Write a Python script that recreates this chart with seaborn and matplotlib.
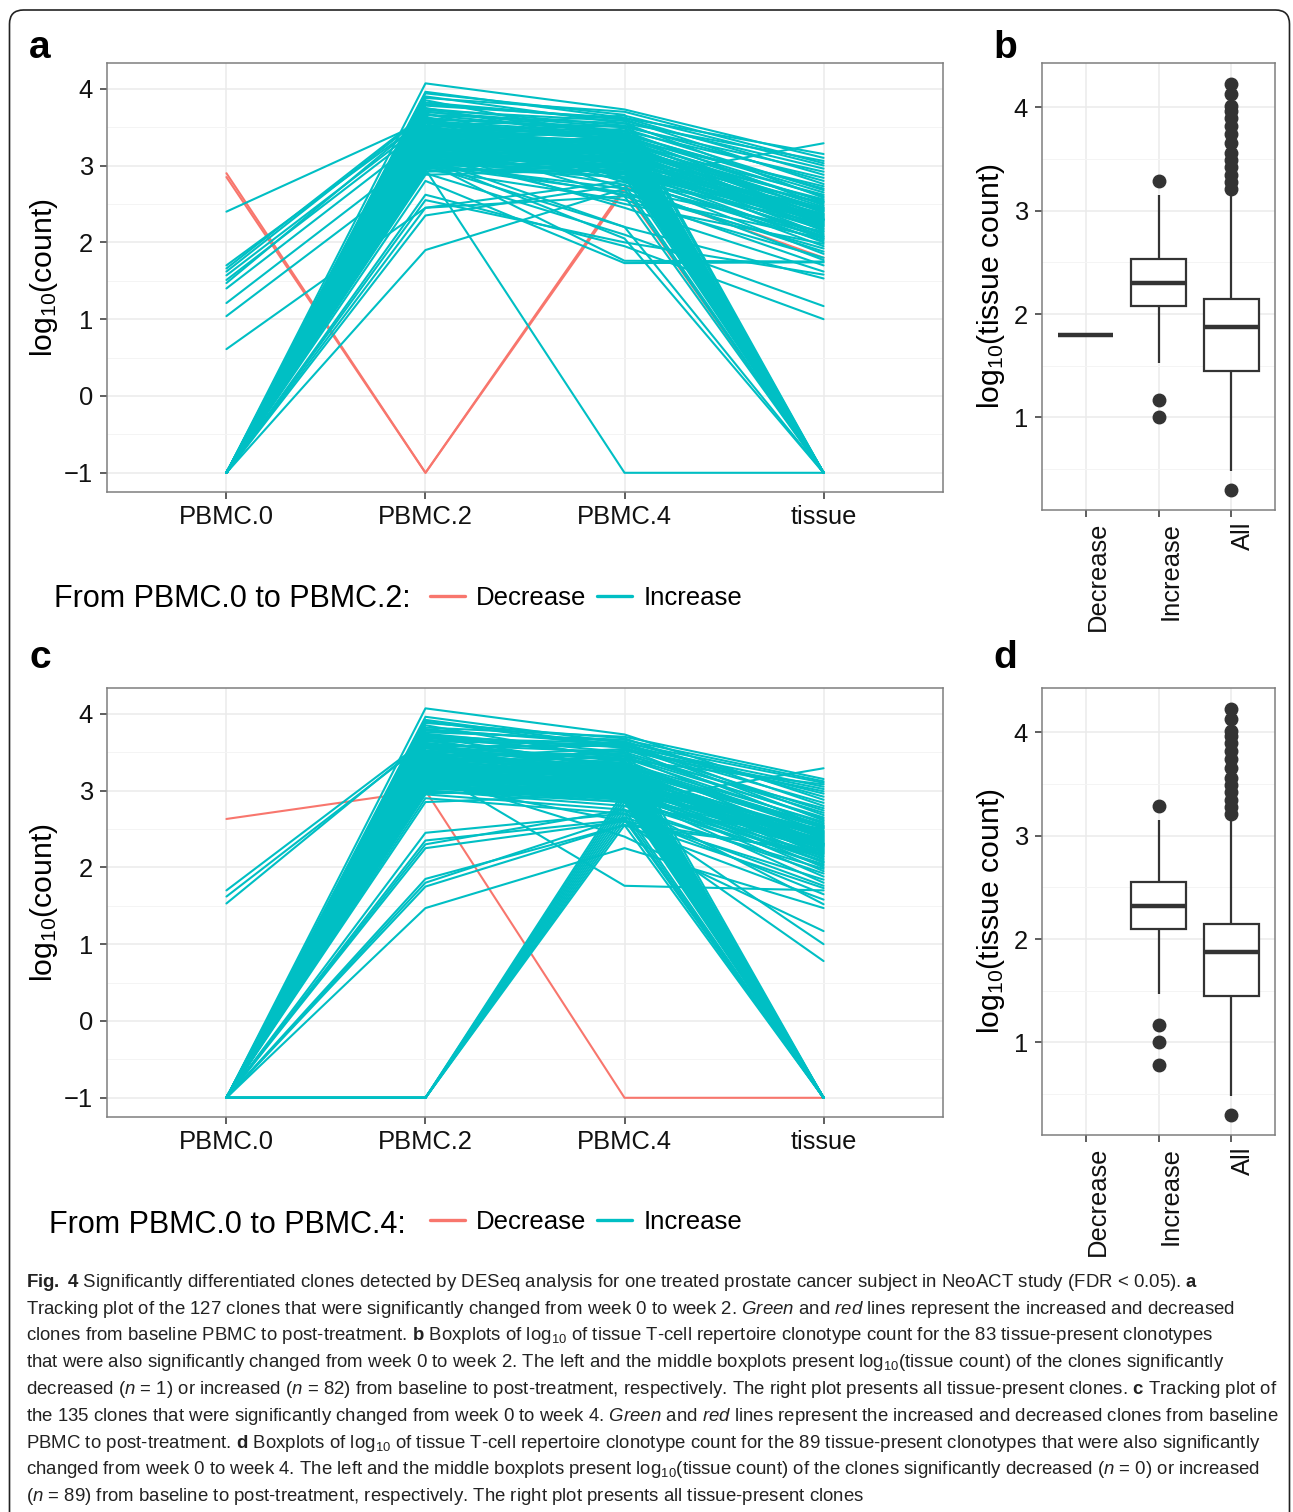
import numpy as np
import pandas as pd
import matplotlib
matplotlib.use("Agg")
import matplotlib.pyplot as plt
import matplotlib.patches as mpatches
import matplotlib.transforms as mtransforms
from matplotlib import font_manager as fm
import seaborn as sns

# ---------------------------------------------------------------- data
time_points = ["PBMC.0", "PBMC.2", "PBMC.4", "tissue"]
box_groups = ["Decrease", "Increase", "All"]

# Panel a: 127 clones changed from week 0 to week 2 (log10 count, -1 = absent)
a_decrease_clones = [125, 126]
a_pbmc0 = [-1, -1, -1, -1, 1.21, -1, -1, -1, -1, -1,
           -1, 1.57, -1, -1, -1, -1, 0.61, -1, -1, -1,
           -1, -1, 1.66, -1, -1, -1, -1, -1, -1, -1,
           1.04, -1, -1, -1, -1, -1, -1, -1, -1, 1.47,
           -1, -1, -1, -1, -1, -1, -1, -1, -1, -1,
           -1, 2.40, -1, -1, -1, -1, -1, -1, -1, -1,
           -1, -1, -1, -1, -1, -1, 1.62, -1, -1, -1,
           -1, -1, -1, -1, -1, -1, -1, -1, -1, -1,
           -1, -1, 1.70, -1, -1, 1.51, -1, -1, -1, -1,
           -1, 1.40, -1, -1, -1, -1, -1, -1, -1, -1,
           -1, -1, -1, -1, -1, -1, -1, -1, -1, -1,
           -1, -1, -1, -1, -1, -1, -1, -1, -1, -1,
           -1, -1, -1, -1, -1, 2.90, 2.85]
a_pbmc2 = [2.62, 2.90, 3.10, 2.55, 3.20, 3.35, 2.80, 3.05, 3.15, 2.95,
           3.45, 3.55, 3.00, 3.25, 3.12, 3.30, 2.45, 3.40, 3.08, 2.98,
           3.22, 3.60, 3.68, 3.18, 3.02, 3.28, 2.88, 3.50, 3.14, 3.33,
           3.00, 3.75, 3.06, 3.20, 3.38, 2.92, 3.26, 3.10, 3.44, 3.62,
           3.16, 3.04, 3.30, 3.85, 3.12, 3.24, 2.96, 3.36, 3.18, 3.52,
           3.08, 3.58, 3.28, 3.20, 3.42, 3.02, 3.34, 3.70, 3.14, 3.26,
           3.48, 3.10, 3.32, 3.90, 3.22, 3.40, 3.66, 3.30, 3.56, 3.18,
           3.80, 3.46, 3.36, 3.96, 3.60, 3.72, 3.50, 3.88, 3.66, 4.07,
           3.78, 3.64, 3.60, 3.20, 3.35, 3.50, 3.05, 3.45, 3.15, 2.95,
           3.28, 3.40, 3.10, 3.55, 3.25, 3.00, 3.38, 3.70, 3.12, 3.30,
           2.45, 1.90, 3.48, 3.22, 3.62, 3.06, 3.34, 3.18, 3.82, 3.42,
           2.35, 3.26, 3.58, 3.08, 3.32, 3.94, 3.16, 3.46, 3.24, 3.74,
           3.02, 3.36, 3.52, 3.14, 3.28, -1, -1]
a_pbmc4 = [1.95, 2.10, 2.20, 2.00, 2.45, 2.60, 1.73, 1.76, 2.75, 2.55,
           2.85, 2.70, 2.65, 2.90, 2.50, 2.95, 2.80, 3.05, 2.62, 2.85,
           3.00, 2.78, 3.10, 2.92, 2.70, 3.15, 2.95, 3.20, 2.88, 3.02,
           2.98, 3.30, 3.08, 2.82, 3.12, 3.00, 2.90, 3.18, 3.25, 3.05,
           2.95, 3.10, 3.22, 3.35, 3.00, 3.28, 2.92, 3.15, 3.05, 3.40,
           3.12, 3.32, 3.08, 3.25, 3.18, 3.02, 3.30, 3.45, 3.20, 3.10,
           3.35, 3.28, 3.22, 3.55, 3.38, 3.30, 3.42, 3.48, 3.40, 3.35,
           3.60, 3.52, 3.45, 3.62, 3.50, 3.58, 3.65, 3.70, 3.55, 3.73,
           3.62, 2.82, 3.10, 2.95, 3.05, 3.25, 2.85, 3.30, 3.00, -1,
           3.15, 3.20, 2.90, 3.35, 3.10, 2.20, 3.28, 3.50, 3.05, 3.18,
           2.60, 2.70, 3.40, 3.08, 3.45, 2.98, 3.22, 3.12, 3.60, 3.32,
           2.75, 3.02, 3.42, 2.05, 3.26, 3.66, 3.00, 3.36, 3.14, 3.52,
           2.92, 3.24, 3.38, 3.06, 3.20, 2.72, 2.68]
a_tissue = [1.00, 1.17, 1.53, 1.58, 1.62, 1.70, 1.74, 1.75, 1.77, 1.80,
            1.85, 1.88, 1.92, 1.95, 1.98, 2.00, 2.02, 2.04, 2.05, 2.06,
            2.08, 2.08, 2.10, 2.12, 2.14, 2.15, 2.17, 2.18, 2.20, 2.21,
            2.22, 2.23, 2.24, 2.25, 2.26, 2.27, 2.28, 2.29, 2.29, 2.30,
            2.30, 2.30, 2.31, 2.32, 2.33, 2.34, 2.35, 2.36, 2.37, 2.38,
            2.40, 2.41, 2.42, 2.43, 2.44, 2.45, 2.46, 2.48, 2.50, 2.52,
            2.53, 2.54, 2.56, 2.58, 2.60, 2.62, 2.65, 2.68, 2.70, 2.73,
            2.76, 2.80, 2.84, 2.88, 2.92, 2.96, 3.00, 3.03, 3.06, 3.10,
            3.15, 3.29, -1, -1, -1, -1, -1, -1, -1, -1,
            -1, -1, -1, -1, -1, -1, -1, -1, -1, -1,
            -1, -1, -1, -1, -1, -1, -1, -1, -1, -1,
            -1, -1, -1, -1, -1, -1, -1, -1, -1, -1,
            -1, -1, -1, -1, -1, 1.80, -1]

# Panel c: 135 clones changed from week 0 to week 4
c_decrease_clones = [134]
c_pbmc0 = [-1, -1, -1, -1, -1, -1, -1, -1, -1, -1,
           -1, -1, -1, -1, -1, -1, 1.62, -1, -1, -1,
           -1, -1, -1, -1, -1, -1, -1, -1, -1, -1,
           -1, -1, -1, -1, -1, -1, -1, -1, -1, -1,
           1.70, -1, -1, -1, -1, -1, -1, -1, -1, -1,
           -1, -1, -1, -1, -1, -1, -1, -1, -1, -1,
           -1, -1, -1, -1, -1, -1, -1, -1, -1, -1,
           -1, -1, -1, -1, -1, -1, -1, -1, -1, -1,
           -1, -1, -1, -1, -1, -1, -1, -1, -1, -1,
           -1, -1, -1, -1, -1, 1.53, -1, -1, -1, -1,
           -1, -1, -1, -1, -1, -1, -1, -1, -1, -1,
           -1, -1, -1, -1, -1, -1, -1, -1, -1, -1,
           -1, -1, -1, -1, -1, -1, -1, -1, -1, -1,
           -1, -1, -1, -1, 2.63]
c_pbmc2 = [3.10, 2.95, 3.20, 1.47, 3.05, 1.75, 2.90, 3.30, 2.25, -1,
           3.15, 1.80, 3.40, 3.00, 3.25, 2.30, 3.62, 3.12, -1, 3.35,
           2.85, 3.22, 3.50, 3.08, 3.18, 3.60, 2.98, -1, 3.28, 3.45,
           1.85, 3.02, 3.70, 3.14, 3.26, 3.38, 3.06, 3.55, 3.20, 3.32,
           3.66, 3.10, 3.48, 3.85, 3.16, 3.24, 2.96, 3.36, 3.18, 3.52,
           -1, 3.28, 3.20, 3.42, 3.02, 3.34, 3.72, 3.14, 3.26, 3.48,
           3.10, -1, 3.32, 3.90, 3.22, 3.40, 3.30, 3.56, 3.18, 3.80,
           3.46, 3.36, 3.96, 3.60, 3.72, 3.50, 3.88, 3.66, 4.07, 3.78,
           3.64, 3.30, 3.44, 3.58, 3.24, 3.68, 3.76, 3.82, 3.60, 3.20,
           -1, 3.35, 3.05, 3.50, 3.15, 3.65, 3.28, 3.40, 3.10, 3.55,
           -1, 3.25, 3.00, 3.45, -1, 3.18, 3.70, 3.30, 3.12, 3.38,
           2.45, -1, 3.62, 3.08, 3.34, 3.22, 3.48, 3.16, 3.92, -1,
           3.26, 3.58, 3.04, 3.42, 3.20, 3.74, 3.14, 3.32, 2.35, 3.52,
           3.10, 3.28, 3.44, 3.06, 3.00]
c_pbmc4 = [2.60, 2.75, 2.40, 2.25, 2.85, 2.55, 2.70, 1.76, 2.60, 2.70,
           2.95, 2.65, 3.00, 2.80, 3.05, 2.75, 3.10, 2.90, 2.85, 3.15,
           2.95, 3.00, 3.20, 2.88, 2.98, 3.25, 2.92, 2.60, 3.08, 3.18,
           2.55, 2.94, 3.30, 3.02, 3.06, 3.12, 2.96, 3.22, 3.04, 3.16,
           3.28, 3.00, 3.26, 3.40, 3.08, 3.14, 3.02, 3.20, 3.10, 3.35,
           2.80, 3.18, 3.12, 3.24, 3.05, 3.22, 3.45, 3.15, 3.20, 3.32,
           3.10, 2.95, 3.26, 3.55, 3.28, 3.34, 3.30, 3.42, 3.36, 3.60,
           3.48, 3.44, 3.62, 3.50, 3.56, 3.46, 3.68, 3.58, 3.73, 3.64,
           3.60, 3.52, 3.54, 3.58, 3.40, 3.62, 3.66, 3.70, 2.85, 3.05,
           2.65, 3.15, 2.90, 3.25, 3.00, 3.30, 3.10, 3.20, 2.95, 3.35,
           2.90, 3.08, 2.85, 3.28, 2.55, 3.02, 3.45, 3.18, 2.98, 3.22,
           2.70, 2.75, 3.38, 2.92, 3.24, 3.12, 3.32, 3.06, 3.58, 3.00,
           3.14, 3.40, 2.88, 3.26, 3.10, 3.50, 3.04, 3.20, 2.62, 3.36,
           2.96, 3.16, 3.30, 2.94, -1]
c_tissue = [0.78, 1.00, 1.17, 1.47, 1.52, 1.58, 1.65, 1.70, 1.73, 1.76,
            1.80, 1.84, 1.88, 1.92, 1.95, 1.98, 2.00, 2.02, 2.04, 2.06,
            2.07, 2.08, 2.10, 2.12, 2.14, 2.15, 2.17, 2.18, 2.19, 2.20,
            2.21, 2.22, 2.23, 2.24, 2.25, 2.26, 2.27, 2.28, 2.28, 2.29,
            2.30, 2.30, 2.31, 2.31, 2.32, 2.33, 2.34, 2.35, 2.36, 2.37,
            2.38, 2.39, 2.40, 2.41, 2.42, 2.43, 2.44, 2.45, 2.46, 2.47,
            2.48, 2.50, 2.51, 2.52, 2.53, 2.54, 2.55, 2.57, 2.59, 2.61,
            2.63, 2.65, 2.68, 2.71, 2.74, 2.77, 2.80, 2.84, 2.88, 2.92,
            2.96, 2.99, 3.02, 3.05, 3.08, 3.10, 3.12, 3.15, 3.29, -1,
            -1, -1, -1, -1, -1, -1, -1, -1, -1, -1,
            -1, -1, -1, -1, -1, -1, -1, -1, -1, -1,
            -1, -1, -1, -1, -1, -1, -1, -1, -1, -1,
            -1, -1, -1, -1, -1, -1, -1, -1, -1, -1,
            -1, -1, -1, -1, -1]

# log10(tissue count) of all tissue-present clones (panels b and d, "All")
all_tissue = [0.30, 0.48, 0.60, 0.70, 0.78, 0.85, 0.90, 0.95, 1.00, 1.04,
              1.08, 1.11, 1.15, 1.18, 1.20, 1.23, 1.26, 1.28, 1.30, 1.32,
              1.34, 1.36, 1.38, 1.40, 1.43, 1.45, 1.46, 1.48, 1.50, 1.52,
              1.54, 1.56, 1.58, 1.60, 1.62, 1.64, 1.66, 1.68, 1.70, 1.72,
              1.74, 1.76, 1.78, 1.79, 1.80, 1.81, 1.83, 1.84, 1.85, 1.86,
              1.88, 1.90, 1.92, 1.94, 1.95, 1.97, 1.98, 2.00, 2.01, 2.02,
              2.03, 2.04, 2.05, 2.06, 2.07, 2.08, 2.09, 2.10, 2.11, 2.11,
              2.12, 2.13, 2.13, 2.14, 2.14, 2.15, 2.20, 2.26, 2.33, 2.40,
              2.48, 2.57, 2.66, 2.77, 2.89, 3.02, 3.17, 3.21, 3.28, 3.35,
              3.42, 3.49, 3.56, 3.66, 3.74, 3.82, 3.90, 3.97, 4.01, 4.13,
              4.23]

legend_titles = ["From PBMC.0 to PBMC.2:", "From PBMC.0 to PBMC.4:"]
caption_lines = [
    r"$\mathbf{Fig.\ 4}$ Significantly differentiated clones detected by DESeq analysis for one treated prostate cancer subject in NeoACT study (FDR < 0.05). $\mathbf{a}$",
    r"Tracking plot of the 127 clones that were significantly changed from week 0 to week 2. $\mathit{Green}$ and $\mathit{red}$ lines represent the increased and decreased",
    r"clones from baseline PBMC to post-treatment. $\mathbf{b}$ Boxplots of log$_{10}$ of tissue T-cell repertoire clonotype count for the 83 tissue-present clonotypes",
    r"that were also significantly changed from week 0 to week 2. The left and the middle boxplots present log$_{10}$(tissue count) of the clones significantly",
    r"decreased ($\mathit{n}$ = 1) or increased ($\mathit{n}$ = 82) from baseline to post-treatment, respectively. The right plot presents all tissue-present clones. $\mathbf{c}$ Tracking plot of",
    r"the 135 clones that were significantly changed from week 0 to week 4. $\mathit{Green}$ and $\mathit{red}$ lines represent the increased and decreased clones from baseline",
    r"PBMC to post-treatment. $\mathbf{d}$ Boxplots of log$_{10}$ of tissue T-cell repertoire clonotype count for the 89 tissue-present clonotypes that were also significantly",
    r"changed from week 0 to week 4. The left and the middle boxplots present log$_{10}$(tissue count) of the clones significantly decreased ($\mathit{n}$ = 0) or increased",
    r"($\mathit{n}$ = 89) from baseline to post-treatment, respectively. The right plot presents all tissue-present clones",
]

# ---------------------------------------------------------------- style
sns.set_theme(style="white")
avail = {f.name for f in fm.fontManager.ttflist}
main_font = "Liberation Sans" if "Liberation Sans" in avail else "DejaVu Sans"
cap_font = "Liberation Sans Narrow" if "Liberation Sans Narrow" in avail else main_font
plt.rcParams["font.family"] = [main_font, "DejaVu Sans"]
plt.rcParams["mathtext.fontset"] = "custom"
plt.rcParams["mathtext.rm"] = cap_font
plt.rcParams["mathtext.it"] = cap_font + ":italic"
plt.rcParams["mathtext.bf"] = cap_font + ":bold"
plt.rcParams["mathtext.default"] = "regular"

RED, CYAN = "#F8766D", "#00BFC4"
INK = "#333333"
W, H = 1293, 1512
fig = plt.figure(figsize=(W / 100, H / 100), dpi=100)
fig.patch.set_facecolor("white")


def px_axes(l, t, r, b):
    return fig.add_axes([l / W, 1 - b / H, (r - l) / W, (b - t) / H])


ax_a = px_axes(107, 63, 943, 492)
ax_b = px_axes(1042, 63, 1275, 510)
ax_c = px_axes(107, 688, 943, 1117)
ax_d = px_axes(1042, 688, 1275, 1135)


def style_axes(ax, ymaj, ymin):
    ax.set_yticks(ymaj)
    ax.set_yticks(ymin, minor=True)
    ax.grid(True, which="major", color="#EBEBEB", lw=1.1)
    ax.grid(True, which="minor", axis="y", color="#F4F4F4", lw=0.7)
    ax.set_axisbelow(True)
    for s in ax.spines.values():
        s.set_visible(True)
        s.set_color("#7F7F7F")
        s.set_linewidth(1.1)
    ax.tick_params(which="major", length=5, width=1.1, color=INK,
                   labelsize=18.4, labelcolor="#111111", bottom=True, left=True)
    ax.tick_params(which="minor", length=0)
    ax.tick_params(axis="y", pad=5)
    ax.set_xlabel("")


def long_df(p0, p2, p4, t, dec):
    rows = []
    for i in range(len(p0)):
        ch = "Decrease" if i in dec else "Increase"
        for tm, v in zip(time_points, (p0[i], p2[i], p4[i], t[i])):
            rows.append((i, tm, v, ch))
    return pd.DataFrame(rows, columns=["clone", "time", "log_count", "change"])


def box_panel(ax, df):
    sns.boxplot(data=df, x="group", y="value", order=box_groups, width=0.75,
                color="white", linecolor=INK, linewidth=1.6, fliersize=9,
                showcaps=False,
                flierprops=dict(marker="o", markerfacecolor=INK,
                                markeredgecolor=INK),
                medianprops=dict(linewidth=3.2, color=INK), ax=ax)
    ax.set_xlim(-0.6, 2.6)
    ax.set_ylim(0.105, 4.43)
    style_axes(ax, [1, 2, 3, 4], [0.5, 1.5, 2.5, 3.5])
    ax.tick_params(axis="x", pad=3.5)
    for lab in ax.get_xticklabels():
        lab.set_rotation(90)
        lab.set_ha("left")
        lab.set_va("top")
    ax.set_ylabel("log$_{10}$(tissue count)", fontsize=21.7, color="black")
    ax.yaxis.set_label_coords((1007 - 1042) / 233, 0.5)


# ---- panels a / c : tracking plots
df_a = long_df(a_pbmc0, a_pbmc2, a_pbmc4, a_tissue, a_decrease_clones)
df_c = long_df(c_pbmc0, c_pbmc2, c_pbmc4, c_tissue, c_decrease_clones)
for ax, df, ttl, ly, tx, tb in [(ax_a, df_a, legend_titles[0], 598, 54, 607),
                                (ax_c, df_c, legend_titles[1], 1222, 49, 1233)]:
    sns.lineplot(data=df, x="time", y="log_count", hue="change",
                 hue_order=["Decrease", "Increase"],
                 palette={"Decrease": RED, "Increase": CYAN},
                 units="clone", estimator=None, sort=False, lw=1.5, ax=ax)
    ax.set_xlim(-0.6, 3.6)
    ax.set_ylim(-1.25, 4.335)
    style_axes(ax, [-1, 0, 1, 2, 3, 4], [-0.5, 0.5, 1.5, 2.5, 3.5])
    ax.tick_params(axis="x", pad=4.5)
    ax.set_ylabel("log$_{10}$(count)", fontsize=21.7, color="black")
    ax.yaxis.set_label_coords((60 - 107) / 836, 0.5)
    sns.move_legend(ax, "center left", bbox_to_anchor=(430 / W, 1 - ly / H),
                    bbox_transform=fig.transFigure, ncol=2, title=None,
                    frameon=False, fontsize=18.5, handlelength=1.36,
                    handletextpad=0.43, columnspacing=0.43, borderpad=0,
                    borderaxespad=0)
    leg = ax.get_legend()
    for ln in leg.get_lines():
        ln.set_linewidth(2.4)
    for t in leg.get_texts():
        t.set_color("black")
    fig.text(tx / W, 1 - tb / H, ttl, fontsize=22, ha="left", va="baseline",
             color="black")

# ---- panels b / d : boxplots
a_tis = np.array(a_tissue)
c_tis = np.array(c_tissue)
a_dec_mask = np.isin(np.arange(len(a_tis)), a_decrease_clones)
c_dec_mask = np.isin(np.arange(len(c_tis)), c_decrease_clones)


def box_df(tis, dec_mask):
    dec = tis[dec_mask & (tis > -1)]
    inc = tis[~dec_mask & (tis > -1)]
    groups = (["Decrease"] * len(dec) + ["Increase"] * len(inc)
              + ["All"] * len(all_tissue))
    vals = list(dec) + list(inc) + list(all_tissue)
    return pd.DataFrame({"group": groups, "value": vals})


box_panel(ax_b, box_df(a_tis, a_dec_mask))
box_panel(ax_d, box_df(c_tis, c_dec_mask))

# ---- panel letters
for letter, x, y in [("a", 29, 58), ("b", 993, 58), ("c", 29, 668), ("d", 993, 668)]:
    fig.text(x / W, 1 - y / H, letter, fontsize=28, fontweight="bold",
             ha="left", va="baseline", color="black")

# ---- caption
cap_size = 15.0
cap_texts = []
for i, line in enumerate(caption_lines):
    yb = 1287 + i * 26.75
    cap_texts.append(fig.text(26 / W, 1 - yb / H, line, fontsize=cap_size,
                              family=cap_font, ha="left", va="baseline",
                              color="#222222"))
fig.canvas.draw()
rend = fig.canvas.get_renderer()
maxw = max(t.get_window_extent(rend).width for t in cap_texts)
new_size = cap_size * 1254 / maxw
for t in cap_texts:
    t.set_fontsize(new_size)

# ---- outer frame
frame = mpatches.FancyBboxPatch((9.5, -40), 1280, H - 10 + 40,
                                boxstyle="round,pad=0,rounding_size=14",
                                transform=mtransforms.IdentityTransform(),
                                fill=False, ec="#222222", lw=1.2)
fig.add_artist(frame)

fig.savefig("out.png", dpi=100)
